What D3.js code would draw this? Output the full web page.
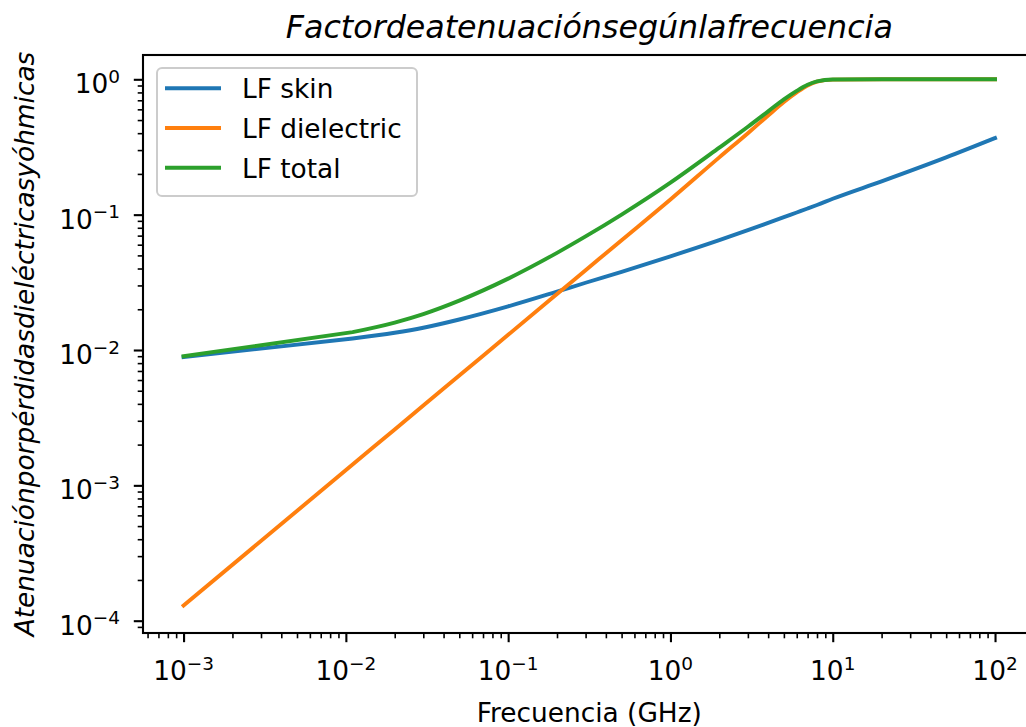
<!DOCTYPE html>
<html><head><meta charset="utf-8">
<script src="https://cdn.jsdelivr.net/npm/d3@7"></script>
<style>body{margin:0;background:#fff;} svg{display:block;font-family:"DejaVu Sans",sans-serif;}</style>
</head><body><svg id="c" width="1026" height="727"></svg>
<script>
// ---- data ----
const freqs = [0.001, 0.011, 0.02, 0.03, 0.05, 0.1, 0.2, 0.3, 0.5, 1, 2, 3, 4, 5, 6, 7, 8, 10, 20, 50, 100];
const lfSkin = [0.00887, 0.01215, 0.0134, 0.0146, 0.0168, 0.0210, 0.0270, 0.0314, 0.0378, 0.0492, 0.0648, 0.0768, 0.0870, 0.0959, 0.1038, 0.1110, 0.1178, 0.131, 0.1762, 0.2648, 0.368];
const lfDielectric = [0.0001295, 0.0014245, 0.00259, 0.003885, 0.006475, 0.01295, 0.0259, 0.03885, 0.06475, 0.1295, 0.265, 0.40, 0.54, 0.68, 0.80, 0.90, 0.96, 0.995, 1.0, 1.0, 1.0];
const lfTotal = [0.0090, 0.01356, 0.01596, 0.01843, 0.02317, 0.03368, 0.0522, 0.06903, 0.1001, 0.17233, 0.31263, 0.44608, 0.58002, 0.71069, 0.82076, 0.9111, 0.96471, 0.99566, 1.0, 1.0, 1.0];
const seriesNames = ["LF skin", "LF dielectric", "LF total"];
const seriesColors = ["#1f77b4", "#ff7f0e", "#2ca02c"];
const xTickExps = [-3, -2, -1, 0, 1, 2];
const yTickExps = [-4, -3, -2, -1, 0];
const titleText = "Factordeatenuaciónsegúnlafrecuencia";
const xLabelText = "Frecuencia (GHz)";
const yLabelText = "Atenuaciónporpérdidasdieléctricasyóhmicas";

// ---- layout ----
const svg = d3.select("#c");
const L = 143, R = 1035.6, T = 55, B = 633;
const FS = 26.4;
const x = d3.scaleLog().domain([Math.pow(10, -3.25), Math.pow(10, 2.25)]).range([L, R]);
const y = d3.scaleLog().domain([Math.pow(10, -4.0909), Math.pow(10, 0.1796)]).range([B, T]);

const minorOf = (lo, hi, dom) => {
  const out = [];
  for (let e = lo; e <= hi; e++) for (let m = 2; m <= 9; m++) {
    const v = m * Math.pow(10, e);
    if (v >= dom[0] && v <= dom[1]) out.push(v);
  }
  return out;
};
const xMinor = minorOf(-4, 2, x.domain());
const yMinor = minorOf(-5, 0, y.domain());

svg.append("defs").append("clipPath").attr("id", "clip")
  .append("rect").attr("x", L).attr("y", T).attr("width", R - L).attr("height", B - T);

// curves
const allSeries = [lfSkin, lfDielectric, lfTotal];
function buildPath(vals) {
  const pts = freqs.map((f, i) => [x(f), y(vals[i])]);
  const lin = d3.line()(pts.slice(0, 2));
  const mono = d3.line().curve(d3.curveMonotoneX)(pts.slice(1));
  return lin + mono.replace(/^M/, "L");
}
const g = svg.append("g").attr("clip-path", "url(#clip)");
allSeries.forEach((vals, i) => {
  g.append("path").attr("d", buildPath(vals)).attr("fill", "none")
    .attr("stroke", seriesColors[i]).attr("stroke-width", 3.9)
    .attr("stroke-linecap", "square").attr("stroke-linejoin", "round");
});

// axes ticks
const xMajorVals = xTickExps.map(e => Math.pow(10, e));
const yMajorVals = yTickExps.map(e => Math.pow(10, e));
function styleAxis(sel, w) {
  sel.select(".domain").remove();
  sel.selectAll(".tick line").attr("stroke", "#000").attr("stroke-width", w);
  sel.selectAll(".tick text").remove();
}
svg.append("g").attr("transform", `translate(0,${B})`)
  .call(d3.axisBottom(x).tickValues(xMinor).tickSize(5.3).tickFormat(""))
  .call(s => styleAxis(s, 1.6));
svg.append("g").attr("transform", `translate(0,${B})`)
  .call(d3.axisBottom(x).tickValues(xMajorVals).tickSize(9.2).tickFormat(""))
  .call(s => styleAxis(s, 2.1));
svg.append("g").attr("transform", `translate(${L},0)`)
  .call(d3.axisLeft(y).tickValues(yMinor).tickSize(5.3).tickFormat(""))
  .call(s => styleAxis(s, 1.6));
svg.append("g").attr("transform", `translate(${L},0)`)
  .call(d3.axisLeft(y).tickValues(yMajorVals).tickSize(9.2).tickFormat(""))
  .call(s => styleAxis(s, 2.1));

// frame
svg.append("rect").attr("x", L).attr("y", T).attr("width", R - L).attr("height", B - T)
  .attr("fill", "none").attr("stroke", "#000").attr("stroke-width", 2.1);

const expStr = e => (e < 0 ? "\u2212" + (-e) : String(e));
// x tick labels
xTickExps.forEach(e => {
  const t = svg.append("text").attr("x", x(Math.pow(10, e))).attr("y", 680)
    .attr("text-anchor", "middle").attr("font-size", FS).attr("fill", "#000");
  t.append("tspan").text("10");
  t.append("tspan").attr("dy", -10.5).attr("font-size", FS * 0.7).text(expStr(e));
});
// y tick labels
yTickExps.forEach(e => {
  const t = svg.append("text").attr("x", 120).attr("y", y(Math.pow(10, e)) + 14)
    .attr("text-anchor", "end").attr("font-size", FS).attr("fill", "#000");
  t.append("tspan").text("10");
  t.append("tspan").attr("dy", -10.5).attr("font-size", FS * 0.7).text(expStr(e));
});

// title & labels
svg.append("text").attr("x", (L + R) / 2).attr("y", 38).attr("text-anchor", "middle")
  .attr("font-size", 31.7).attr("font-style", "italic").attr("fill", "#000").text(titleText);
svg.append("text").attr("x", (L + R) / 2).attr("y", 722).attr("text-anchor", "middle")
  .attr("font-size", FS).attr("fill", "#000").text(xLabelText);
svg.append("text").attr("transform", `translate(34,${(T + B) / 2}) rotate(-90)`)
  .attr("text-anchor", "middle").attr("font-size", FS).attr("font-style", "italic")
  .attr("fill", "#000").text(yLabelText);

// legend
const lg = svg.append("g");
lg.append("rect").attr("x", 157).attr("y", 68).attr("width", 260).attr("height", 128)
  .attr("rx", 5).attr("fill", "#fff").attr("fill-opacity", 0.8)
  .attr("stroke", "#cccccc").attr("stroke-width", 2);
seriesNames.forEach((nm, i) => {
  const yy = 88.3 + i * 39.7;
  lg.append("line").attr("x1", 165).attr("x2", 221).attr("y1", yy).attr("y2", yy)
    .attr("stroke", seriesColors[i]).attr("stroke-width", 3.9);
  lg.append("text").attr("x", 242).attr("y", yy + 10).attr("font-size", FS)
    .attr("fill", "#000").text(nm);
});
</script></body></html>
